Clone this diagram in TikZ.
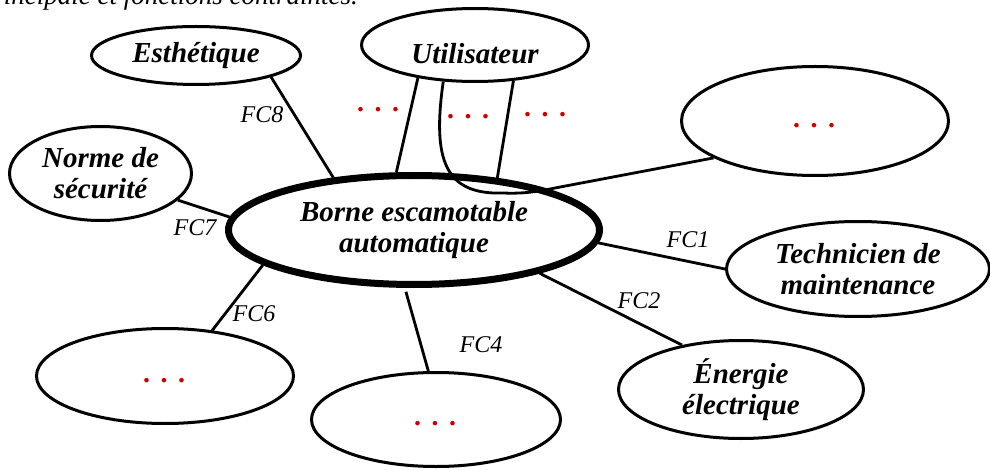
\documentclass[tikz,border=0pt]{standalone}
\usepackage{fontspec}
\setmainfont{Liberation Serif}
\usetikzlibrary{shapes.geometric}
\definecolor{dotred}{RGB}{204,0,0}
\newcommand{\rdots}{.\hskip 10.5pt.\hskip 10.5pt.}
\begin{document}
\begin{tikzpicture}[x=1pt,y=-1pt,
  ell/.style={draw, ellipse, line width=3pt, inner sep=0pt, align=center,
    font=\fontsize{29}{31}\selectfont\bfseries\itshape},
  redtext/.style={text=dotred},
  link/.style={line width=2.8pt},
  fc/.style={font=\fontsize{24}{26}\selectfont\itshape, inner sep=0pt},
  rdot/.style={text=dotred, font=\fontsize{28}{30}\selectfont\bfseries\itshape, inner sep=0pt, anchor=base},
]
\useasboundingbox (0,0) rectangle (990,470);
\node[anchor=base east, font=\fontsize{27}{30}\selectfont\itshape, inner sep=0pt] (cap) at (358,5) {principale et fonctions contraintes.};

% ellipses
\node[ell, line width=7pt, minimum width=371pt, minimum height=109pt] (C) at (414,230) {Borne escamotable\\automatique};
\node[ell, minimum width=227pt, minimum height=73pt,
  label={[font=\fontsize{29}{31}\selectfont\bfseries\itshape, yshift=-9pt, name=Ut]center:Utilisateur}] (U) at (475,45) {};
\node[ell, minimum width=209pt, minimum height=58pt] (E) at (196,55.5) {Esthétique};
\node[ell, minimum width=182pt, minimum height=94pt] (N) at (100.5,173.5) {Norme de\\sécurité};
\node[ell, redtext, minimum width=267pt, minimum height=109pt, font=\fontsize{28}{31}\selectfont\bfseries\itshape] (TR) at (815,121) {\strut\rdots};
\node[ell, minimum width=263pt, minimum height=95pt] (T) at (858,269) {Technicien de\\maintenance};
\node[ell, minimum width=245pt, minimum height=98pt] (En) at (741,389.5) {Énergie\\électrique};
\node[ell, redtext, minimum width=249pt, minimum height=94pt, font=\fontsize{28}{31}\selectfont\bfseries\itshape] (BC) at (436,419.5) {\strut\rdots};
\node[ell, redtext, minimum width=257pt, minimum height=95pt, font=\fontsize{28}{31}\selectfont\bfseries\itshape] (BL) at (165,376) {\strut\rdots};

% connectors
\draw[link] (E.-16) -- (C.147);
\draw[link] (N.-19) -- (C.176);
\draw[link] (C.193) -- (BL.44);
\draw[link, shorten <=4pt] (C.261) -- (BC.99);
\draw[link] (C.-19) -- (En.143);
\draw[link] (C.-4) -- (T.180);
\draw[link] (U.210) -- (C.107);
\draw[link] (U.-43) -- (C.32);
\draw[link] (U.229) .. controls (432,160) and (445,195) .. (503,193)
  .. controls (525,194) and (540,191) .. (555,188) -- (TR.200);

% labels
\node[fc] (l8) at (262,115) {FC8};
\node[fc] (l7) at (195,228) {FC7};
\node[fc] (l6) at (254,314) {FC6};
\node[fc] (l4) at (481,345) {FC4};
\node[fc] (l2) at (639,301) {FC2};
\node[fc] (l1) at (688,240) {FC1};

% red dots
\node[rdot] (d1) at (379,112) {\rdots};
\node[rdot] (d2) at (469,119) {\rdots};
\node[rdot] (d3) at (546,117) {\rdots};
\end{tikzpicture}
\end{document}
